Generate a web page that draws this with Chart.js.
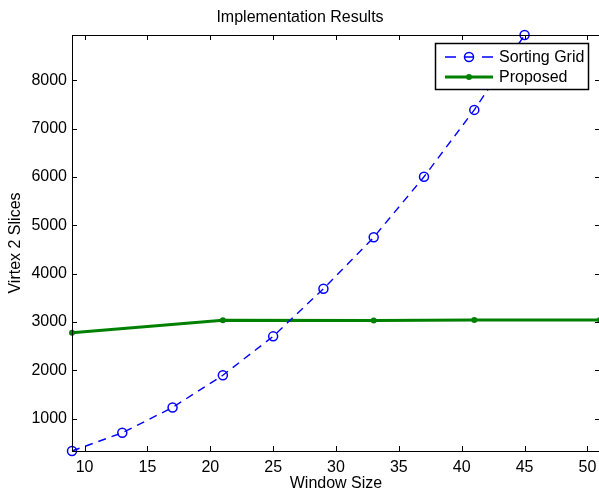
<!DOCTYPE html>
<html>
<head>
<meta charset="utf-8">
<script src="https://cdn.jsdelivr.net/npm/chart.js@4.4.1/dist/chart.umd.min.js"></script>
<style>
  html, body { margin: 0; padding: 0; background: #fff; overflow: hidden; }
  #wrap { width: 600px; height: 493px; }
</style>
</head>
<body>
<div id="wrap"><canvas id="c" width="600" height="493"></canvas></div>
<script>
// ---- data ----
const chartTitle = 'Implementation Results';
const xTitle = 'Window Size';
const yTitle = 'Virtex 2 Slices';
const seriesNames = ['Sorting Grid', 'Proposed'];

const sortingGridX = [9, 13, 17, 21, 25, 29, 33, 37, 41, 45];
const sortingGridY = [335, 711, 1235, 1901, 2705, 3689, 4753, 6004, 7387, 8935];

const proposedX = [9, 21, 33, 41, 51];
const proposedY = [2780, 3040, 3035, 3042, 3042];

const xTicks = [10, 15, 20, 25, 30, 35, 40, 45, 50];
const yTicks = [1000, 2000, 3000, 4000, 5000, 6000, 7000, 8000];
const xRange = [9, 51];
const yRange = [335, 8935];

// ---- styling ----
const FONT = "'Liberation Sans', Arial, Helvetica, sans-serif";
const FS = 16;
const BLUE = '#0000ff';
const GREEN = '#008000';

function pts(xs, ys) { return xs.map((x, i) => ({ x: x, y: ys[i] })); }

const boxPlugin = {
  id: 'boxPlugin',
  afterDraw(chart) {
    const ctx = chart.ctx;
    const a = chart.chartArea;
    const xs = chart.scales.x, ys = chart.scales.y;
    ctx.save();
    ctx.strokeStyle = '#000';
    ctx.lineWidth = 1;
    // box
    ctx.strokeRect(Math.round(a.left) + 0.5, Math.round(a.top) + 0.5,
                   Math.round(a.right - a.left), Math.round(a.bottom - a.top));
    // inward ticks
    const TL = 5;
    ctx.beginPath();
    xTicks.forEach(v => {
      const px = Math.round(xs.getPixelForValue(v)) + 0.5;
      ctx.moveTo(px, a.bottom); ctx.lineTo(px, a.bottom - TL);
      ctx.moveTo(px, a.top); ctx.lineTo(px, a.top + TL);
    });
    yTicks.forEach(v => {
      const py = Math.round(ys.getPixelForValue(v)) + 0.5;
      ctx.moveTo(a.left, py); ctx.lineTo(a.left + TL, py);
      ctx.moveTo(a.right, py); ctx.lineTo(a.right - TL, py);
    });
    ctx.stroke();

    // legend
    const lx = 435.5, ly = 43.5, lw = 153, lh = 46;
    ctx.fillStyle = '#fff';
    ctx.fillRect(lx, ly, lw, lh);
    ctx.lineWidth = 1.5;
    ctx.strokeStyle = '#000';
    ctx.strokeRect(lx, ly, lw, lh);

    const ds = chart.data.datasets;
    const r1 = 57, r2 = 77;
    ctx.strokeStyle = ds[0].borderColor;
    ctx.lineWidth = ds[0].borderWidth;
    ctx.beginPath();
    ctx.moveTo(445, r1); ctx.lineTo(456, r1);
    ctx.moveTo(464, r1); ctx.lineTo(474, r1);
    ctx.moveTo(482, r1); ctx.lineTo(493, r1);
    ctx.stroke();
    ctx.lineWidth = ds[0].pointBorderWidth;
    ctx.beginPath();
    ctx.arc(469, r1, ds[0].pointRadius, 0, Math.PI * 2);
    ctx.stroke();
    ctx.strokeStyle = ds[1].borderColor;
    ctx.lineWidth = ds[1].borderWidth;
    ctx.beginPath();
    ctx.moveTo(445, r2); ctx.lineTo(493, r2);
    ctx.stroke();
    ctx.fillStyle = ds[1].pointBackgroundColor;
    ctx.beginPath();
    ctx.arc(469, r2, ds[1].pointRadius, 0, Math.PI * 2);
    ctx.fill();

    ctx.fillStyle = '#000';
    ctx.font = FS + 'px ' + FONT;
    ctx.textAlign = 'left';
    ctx.textBaseline = 'middle';
    ctx.fillText(ds[0].label, 499, r1 + 0.5);
    ctx.fillText(ds[1].label, 499, r2 + 0.5);
    ctx.restore();
  }
};

new Chart(document.getElementById('c'), {
  type: 'line',
  data: {
    datasets: [
      {
        label: seriesNames[0],
        data: pts(sortingGridX, sortingGridY),
        borderColor: BLUE,
        borderWidth: 1.4,
        borderDash: [8, 6],
        pointStyle: 'circle',
        pointRadius: 4.5,
        pointBorderWidth: 1.5,
        pointBorderColor: BLUE,
        pointBackgroundColor: 'rgba(0,0,0,0)',
        fill: false,
        tension: 0,
        clip: 6
      },
      {
        label: seriesNames[1],
        data: pts(proposedX, proposedY),
        borderColor: GREEN,
        borderWidth: 3,
        pointStyle: 'circle',
        pointRadius: 3,
        pointBorderWidth: 0,
        pointBackgroundColor: GREEN,
        pointBorderColor: GREEN,
        fill: false,
        tension: 0,
        clip: 6
      }
    ]
  },
  options: {
    responsive: false,
    animation: false,
    devicePixelRatio: 1,
    layout: { autoPadding: false, padding: { left: 0, right: 0, top: 0, bottom: 0 } },
    plugins: {
      legend: { display: false },
      tooltip: { enabled: false },
      title: {
        display: true,
        text: chartTitle,
        color: '#000',
        font: { family: FONT, size: FS, weight: 'normal', lineHeight: 1.2 },
        padding: { top: 8, bottom: 35 - 8 - FS * 1.2 }
      }
    },
    scales: {
      x: {
        type: 'linear',
        min: xRange[0],
        max: xRange[1],
        bounds: 'data',
        grid: { display: false, drawTicks: false },
        border: { display: false },
        afterBuildTicks: s => { s.ticks = xTicks.map(v => ({ value: v })); },
        afterFit: s => { s.height = 42; s.paddingLeft = 0; s.paddingRight = 0; },
        ticks: {
          color: '#000',
          font: { family: FONT, size: FS },
          padding: 7,
          maxRotation: 0,
          autoSkip: false,
          callback: v => String(v)
        },
        title: {
          display: true,
          text: xTitle,
          color: '#000',
          font: { family: FONT, size: FS, lineHeight: 1.2 },
          padding: { top: 0, bottom: 0 }
        }
      },
      y: {
        type: 'linear',
        min: yRange[0],
        max: yRange[1],
        bounds: 'data',
        grid: { display: false, drawTicks: false },
        border: { display: false },
        afterBuildTicks: s => { s.ticks = yTicks.map(v => ({ value: v })); },
        afterFit: s => { s.width = 72; s.paddingTop = 0; s.paddingBottom = 0; },
        ticks: {
          color: '#000',
          font: { family: FONT, size: FS },
          padding: 5,
          autoSkip: false,
          callback: v => String(v)
        },
        title: {
          display: true,
          text: yTitle,
          color: '#000',
          font: { family: FONT, size: FS, lineHeight: 1.2 },
          padding: { top: 6, bottom: 0 }
        }
      }
    }
  },
  plugins: [boxPlugin]
});
</script>
</body>
</html>
